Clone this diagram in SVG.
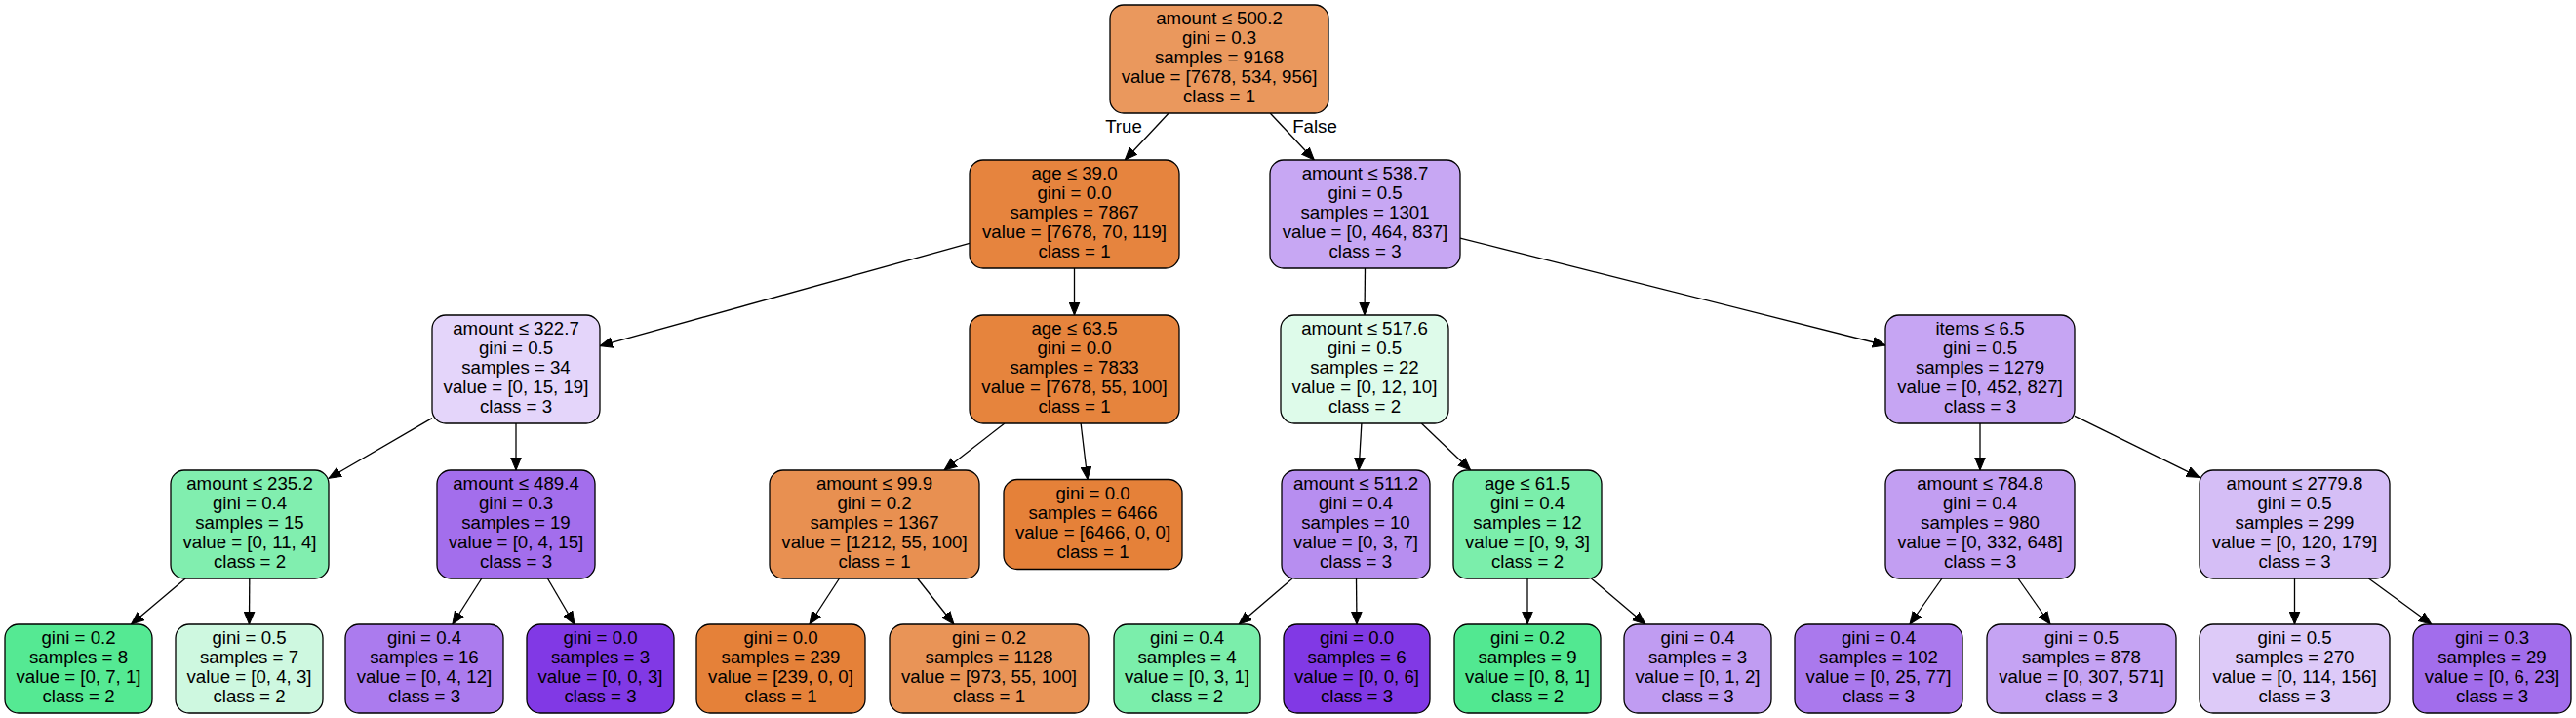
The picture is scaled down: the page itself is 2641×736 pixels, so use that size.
<svg xmlns="http://www.w3.org/2000/svg" width="2641" height="736" viewBox="0 0 2641 736">
<style>
.n rect{stroke:#000;stroke-width:1.3}
text{font-family:"Liberation Sans",Arial,Helvetica,sans-serif;font-size:18.67px;fill:#000;text-anchor:middle}
.e path{stroke:#000;stroke-width:1.3;fill:none;marker-end:url(#ah)}
</style>
<defs>
<marker id="ah" markerUnits="userSpaceOnUse" markerWidth="16" markerHeight="12" refX="13" refY="6" orient="auto" viewBox="0 0 16 12">
<path d="M0,0.7 L13,6 L0,11.3 z" fill="#000" stroke="#000" stroke-width="1"/>
</marker>
</defs>
<rect width="2641" height="736" fill="#fff"/>
<g id="edges" class="e">
<path d="M1198.2,116 L1153.3,164"/>
<path d="M1302.2,116 L1347.3,164"/>
<path d="M994,249.4 L615,354.6"/>
<path d="M1101.5,275 L1101.5,323"/>
<path d="M1399.5,275 L1399,323"/>
<path d="M1497,244.1 L1933,354"/>
<path d="M443,428.6 L337,490.3"/>
<path d="M529,434 L529,482"/>
<path d="M1029.9,434 L968,482"/>
<path d="M1108.1,434 L1115,491.5"/>
<path d="M1395.9,434 L1393.1,482"/>
<path d="M1457.3,434 L1507.7,482"/>
<path d="M2030,434 L2030,482"/>
<path d="M2127,426.3 L2255,489.4"/>
<path d="M190.2,593 L134.5,640"/>
<path d="M255.8,593 L255.5,640"/>
<path d="M493.8,593 L463.9,640"/>
<path d="M561.4,593 L588.9,640"/>
<path d="M860.5,593 L830,640"/>
<path d="M940.6,593 L977.9,640"/>
<path d="M1325.1,593 L1270.2,640"/>
<path d="M1390.5,593 L1391,640"/>
<path d="M1566,593 L1566,640"/>
<path d="M1631.4,593 L1686.9,640"/>
<path d="M1991,593 L1958,640"/>
<path d="M2069,593 L2102,640"/>
<path d="M2352.5,593 L2352.5,640"/>
<path d="M2428.4,593 L2492.8,640"/>
<text x="1152" y="135.5">True</text>
<text x="1348" y="135.5">False</text>
</g>
<g id="n0" class="n"><rect x="1138" y="5" width="224" height="111" rx="14" fill="#ea985d"/><text x="1250" y="24.8"><tspan x="1250">amount ≤ 500.2</tspan><tspan x="1250" dy="20">gini = 0.3</tspan><tspan x="1250" dy="20">samples = 9168</tspan><tspan x="1250" dy="20">value = [7678, 534, 956]</tspan><tspan x="1250" dy="20">class = 1</tspan></text></g>
<g id="n1" class="n"><rect x="994" y="164" width="215" height="111" rx="14" fill="#e6843e"/><text x="1101.5" y="183.8"><tspan x="1101.5">age ≤ 39.0</tspan><tspan x="1101.5" dy="20">gini = 0.0</tspan><tspan x="1101.5" dy="20">samples = 7867</tspan><tspan x="1101.5" dy="20">value = [7678, 70, 119]</tspan><tspan x="1101.5" dy="20">class = 1</tspan></text></g>
<g id="n2" class="n"><rect x="1302" y="164" width="195" height="111" rx="14" fill="#c7a7f3"/><text x="1399.5" y="183.8"><tspan x="1399.5">amount ≤ 538.7</tspan><tspan x="1399.5" dy="20">gini = 0.5</tspan><tspan x="1399.5" dy="20">samples = 1301</tspan><tspan x="1399.5" dy="20">value = [0, 464, 837]</tspan><tspan x="1399.5" dy="20">class = 3</tspan></text></g>
<g id="n3" class="n"><rect x="443" y="323" width="172" height="111" rx="14" fill="#e4d5fa"/><text x="529" y="342.8"><tspan x="529">amount ≤ 322.7</tspan><tspan x="529" dy="20">gini = 0.5</tspan><tspan x="529" dy="20">samples = 34</tspan><tspan x="529" dy="20">value = [0, 15, 19]</tspan><tspan x="529" dy="20">class = 3</tspan></text></g>
<g id="n4" class="n"><rect x="994" y="323" width="215" height="111" rx="14" fill="#e6843d"/><text x="1101.5" y="342.8"><tspan x="1101.5">age ≤ 63.5</tspan><tspan x="1101.5" dy="20">gini = 0.0</tspan><tspan x="1101.5" dy="20">samples = 7833</tspan><tspan x="1101.5" dy="20">value = [7678, 55, 100]</tspan><tspan x="1101.5" dy="20">class = 1</tspan></text></g>
<g id="n5" class="n"><rect x="1313" y="323" width="172" height="111" rx="14" fill="#defbea"/><text x="1399" y="342.8"><tspan x="1399">amount ≤ 517.6</tspan><tspan x="1399" dy="20">gini = 0.5</tspan><tspan x="1399" dy="20">samples = 22</tspan><tspan x="1399" dy="20">value = [0, 12, 10]</tspan><tspan x="1399" dy="20">class = 2</tspan></text></g>
<g id="n6" class="n"><rect x="1933" y="323" width="194" height="111" rx="14" fill="#c6a5f3"/><text x="2030" y="342.8"><tspan x="2030">items ≤ 6.5</tspan><tspan x="2030" dy="20">gini = 0.5</tspan><tspan x="2030" dy="20">samples = 1279</tspan><tspan x="2030" dy="20">value = [0, 452, 827]</tspan><tspan x="2030" dy="20">class = 3</tspan></text></g>
<g id="n7" class="n"><rect x="175" y="482" width="162" height="111" rx="14" fill="#81eeaf"/><text x="256" y="501.8"><tspan x="256">amount ≤ 235.2</tspan><tspan x="256" dy="20">gini = 0.4</tspan><tspan x="256" dy="20">samples = 15</tspan><tspan x="256" dy="20">value = [0, 11, 4]</tspan><tspan x="256" dy="20">class = 2</tspan></text></g>
<g id="n8" class="n"><rect x="448" y="482" width="162" height="111" rx="14" fill="#a36eec"/><text x="529" y="501.8"><tspan x="529">amount ≤ 489.4</tspan><tspan x="529" dy="20">gini = 0.3</tspan><tspan x="529" dy="20">samples = 19</tspan><tspan x="529" dy="20">value = [0, 4, 15]</tspan><tspan x="529" dy="20">class = 3</tspan></text></g>
<g id="n9" class="n"><rect x="789" y="482" width="215" height="111" rx="14" fill="#e89051"/><text x="896.5" y="501.8"><tspan x="896.5">amount ≤ 99.9</tspan><tspan x="896.5" dy="20">gini = 0.2</tspan><tspan x="896.5" dy="20">samples = 1367</tspan><tspan x="896.5" dy="20">value = [1212, 55, 100]</tspan><tspan x="896.5" dy="20">class = 1</tspan></text></g>
<g id="n10" class="n"><rect x="1029" y="491.5" width="183" height="92" rx="14" fill="#e58139"/><text x="1120.5" y="511.8"><tspan x="1120.5">gini = 0.0</tspan><tspan x="1120.5" dy="20">samples = 6466</tspan><tspan x="1120.5" dy="20">value = [6466, 0, 0]</tspan><tspan x="1120.5" dy="20">class = 1</tspan></text></g>
<g id="n11" class="n"><rect x="1314" y="482" width="152" height="111" rx="14" fill="#b78ef0"/><text x="1390" y="501.8"><tspan x="1390">amount ≤ 511.2</tspan><tspan x="1390" dy="20">gini = 0.4</tspan><tspan x="1390" dy="20">samples = 10</tspan><tspan x="1390" dy="20">value = [0, 3, 7]</tspan><tspan x="1390" dy="20">class = 3</tspan></text></g>
<g id="n12" class="n"><rect x="1490" y="482" width="152" height="111" rx="14" fill="#7beeab"/><text x="1566" y="501.8"><tspan x="1566">age ≤ 61.5</tspan><tspan x="1566" dy="20">gini = 0.4</tspan><tspan x="1566" dy="20">samples = 12</tspan><tspan x="1566" dy="20">value = [0, 9, 3]</tspan><tspan x="1566" dy="20">class = 2</tspan></text></g>
<g id="n13" class="n"><rect x="1933" y="482" width="194" height="111" rx="14" fill="#c29ef2"/><text x="2030" y="501.8"><tspan x="2030">amount ≤ 784.8</tspan><tspan x="2030" dy="20">gini = 0.4</tspan><tspan x="2030" dy="20">samples = 980</tspan><tspan x="2030" dy="20">value = [0, 332, 648]</tspan><tspan x="2030" dy="20">class = 3</tspan></text></g>
<g id="n14" class="n"><rect x="2255" y="482" width="195" height="111" rx="14" fill="#d5bef6"/><text x="2352.5" y="501.8"><tspan x="2352.5">amount ≤ 2779.8</tspan><tspan x="2352.5" dy="20">gini = 0.5</tspan><tspan x="2352.5" dy="20">samples = 299</tspan><tspan x="2352.5" dy="20">value = [0, 120, 179]</tspan><tspan x="2352.5" dy="20">class = 3</tspan></text></g>
<g id="l1" class="n"><rect x="5" y="640" width="151" height="91" rx="14" fill="#55e993"/><text x="80.5" y="659.8"><tspan x="80.5">gini = 0.2</tspan><tspan x="80.5" dy="20">samples = 8</tspan><tspan x="80.5" dy="20">value = [0, 7, 1]</tspan><tspan x="80.5" dy="20">class = 2</tspan></text></g>
<g id="l2" class="n"><rect x="180" y="640" width="151" height="91" rx="14" fill="#cef8e0"/><text x="255.5" y="659.8"><tspan x="255.5">gini = 0.5</tspan><tspan x="255.5" dy="20">samples = 7</tspan><tspan x="255.5" dy="20">value = [0, 4, 3]</tspan><tspan x="255.5" dy="20">class = 2</tspan></text></g>
<g id="l3" class="n"><rect x="354" y="640" width="162" height="91" rx="14" fill="#ab7bee"/><text x="435" y="659.8"><tspan x="435">gini = 0.4</tspan><tspan x="435" dy="20">samples = 16</tspan><tspan x="435" dy="20">value = [0, 4, 12]</tspan><tspan x="435" dy="20">class = 3</tspan></text></g>
<g id="l4" class="n"><rect x="540" y="640" width="151" height="91" rx="14" fill="#8139e5"/><text x="615.5" y="659.8"><tspan x="615.5">gini = 0.0</tspan><tspan x="615.5" dy="20">samples = 3</tspan><tspan x="615.5" dy="20">value = [0, 0, 3]</tspan><tspan x="615.5" dy="20">class = 3</tspan></text></g>
<g id="l5" class="n"><rect x="714" y="640" width="173" height="91" rx="14" fill="#e58139"/><text x="800.5" y="659.8"><tspan x="800.5">gini = 0.0</tspan><tspan x="800.5" dy="20">samples = 239</tspan><tspan x="800.5" dy="20">value = [239, 0, 0]</tspan><tspan x="800.5" dy="20">class = 1</tspan></text></g>
<g id="l6" class="n"><rect x="912" y="640" width="204" height="91" rx="14" fill="#e99457"/><text x="1014" y="659.8"><tspan x="1014">gini = 0.2</tspan><tspan x="1014" dy="20">samples = 1128</tspan><tspan x="1014" dy="20">value = [973, 55, 100]</tspan><tspan x="1014" dy="20">class = 1</tspan></text></g>
<g id="l7" class="n"><rect x="1142" y="640" width="150" height="91" rx="14" fill="#7beeab"/><text x="1217" y="659.8"><tspan x="1217">gini = 0.4</tspan><tspan x="1217" dy="20">samples = 4</tspan><tspan x="1217" dy="20">value = [0, 3, 1]</tspan><tspan x="1217" dy="20">class = 2</tspan></text></g>
<g id="l8" class="n"><rect x="1316" y="640" width="150" height="91" rx="14" fill="#8139e5"/><text x="1391" y="659.8"><tspan x="1391">gini = 0.0</tspan><tspan x="1391" dy="20">samples = 6</tspan><tspan x="1391" dy="20">value = [0, 0, 6]</tspan><tspan x="1391" dy="20">class = 3</tspan></text></g>
<g id="l9" class="n"><rect x="1491" y="640" width="150" height="91" rx="14" fill="#52e891"/><text x="1566" y="659.8"><tspan x="1566">gini = 0.2</tspan><tspan x="1566" dy="20">samples = 9</tspan><tspan x="1566" dy="20">value = [0, 8, 1]</tspan><tspan x="1566" dy="20">class = 2</tspan></text></g>
<g id="l10" class="n"><rect x="1665" y="640" width="151" height="91" rx="14" fill="#c09cf2"/><text x="1740.5" y="659.8"><tspan x="1740.5">gini = 0.4</tspan><tspan x="1740.5" dy="20">samples = 3</tspan><tspan x="1740.5" dy="20">value = [0, 1, 2]</tspan><tspan x="1740.5" dy="20">class = 3</tspan></text></g>
<g id="l11" class="n"><rect x="1840" y="640" width="172" height="91" rx="14" fill="#aa79ed"/><text x="1926" y="659.8"><tspan x="1926">gini = 0.4</tspan><tspan x="1926" dy="20">samples = 102</tspan><tspan x="1926" dy="20">value = [0, 25, 77]</tspan><tspan x="1926" dy="20">class = 3</tspan></text></g>
<g id="l12" class="n"><rect x="2037" y="640" width="194" height="91" rx="14" fill="#c5a3f3"/><text x="2134" y="659.8"><tspan x="2134">gini = 0.5</tspan><tspan x="2134" dy="20">samples = 878</tspan><tspan x="2134" dy="20">value = [0, 307, 571]</tspan><tspan x="2134" dy="20">class = 3</tspan></text></g>
<g id="l13" class="n"><rect x="2255" y="640" width="195" height="91" rx="14" fill="#ddcaf8"/><text x="2352.5" y="659.8"><tspan x="2352.5">gini = 0.5</tspan><tspan x="2352.5" dy="20">samples = 270</tspan><tspan x="2352.5" dy="20">value = [0, 114, 156]</tspan><tspan x="2352.5" dy="20">class = 3</tspan></text></g>
<g id="l14" class="n"><rect x="2474" y="640" width="162" height="91" rx="14" fill="#a26dec"/><text x="2555" y="659.8"><tspan x="2555">gini = 0.3</tspan><tspan x="2555" dy="20">samples = 29</tspan><tspan x="2555" dy="20">value = [0, 6, 23]</tspan><tspan x="2555" dy="20">class = 3</tspan></text></g>
</svg>
